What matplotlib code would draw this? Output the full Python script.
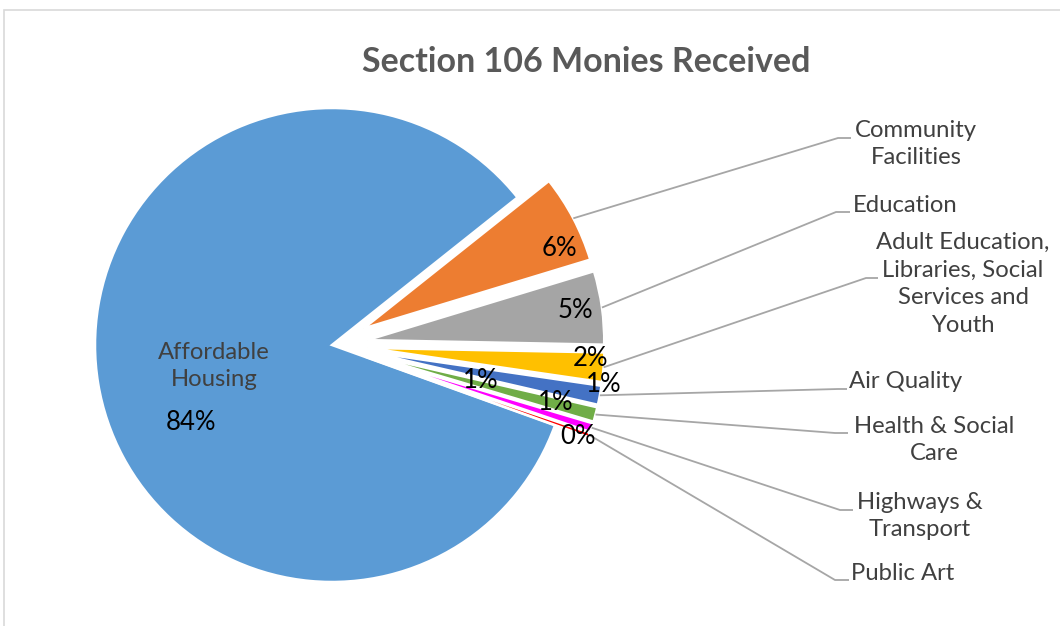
import numpy as np
import matplotlib
matplotlib.use("Agg")
import matplotlib.pyplot as plt
from matplotlib.patches import Rectangle

# ---- data ----
categories = ["Affordable\nHousing", "Community\nFacilities", "Education",
              "Adult Education,\nLibraries, Social\nServices and\nYouth",
              "Air Quality", "Health & Social\nCare", "Highways &\nTransport", "Public Art"]
values = [83.8, 6.0, 5.0, 2.0, 1.3, 1.0, 0.6, 0.3]
pct_labels = ["84%", "6%", "5%", "2%", "1%", "1%", "1%", "0%"]
title = "Section 106 Monies Received"

# ---- style / layout ----
colors = ["#5b9bd5", "#ed7d31", "#a5a5a5", "#ffc000", "#4472c4", "#70ad47", "#ff00ff", "#ff0000"]
W, H = 1060, 626
center_px = (332, 345)
radius_px = 237
explode_frac = [0.0, 0.15, 0.15, 0.15, 0.15, 0.15, 0.15, 0.15]
explode = [f * radius_px for f in explode_frac]

def P(x, y):
    return (x, H - y)

# percent label positions (pixels)
pct_pos = [(191, 422), (559, 248), (575, 311), (590, 358), (604, 385), (556, 403), (481, 380), (578, 437)]
# category label centres (pixels)
cat_pos = [(214, 366), (916, 144), (905, 205), (963, 284), (906, 381), (934, 440), (920, 516), (903, 574)]
# leader knees and ends (pixels), None for the big slice
knees = [None, (838, 138), (836, 212), (866, 278), (838, 389), (835, 433), (840, 510), (835, 580)]
ends = [None, (851, 138), (850, 212), (878, 278), (847, 389), (848, 433), (853, 510), (849, 580)]

fig = plt.figure(figsize=(W / 100, H / 100), dpi=100)
ax = fig.add_axes([0, 0, 1, 1])

startangle = 38.5 + values[0] / sum(values) * 360
wedges, _ = ax.pie(values, colors=colors, explode=explode, startangle=startangle,
                   counterclock=False, radius=radius_px, center=P(*center_px),
                   wedgeprops=dict(edgecolor="white", linewidth=1.8))
ax.set_xlim(0, W)
ax.set_ylim(0, H)
ax.set_aspect("equal")
ax.axis("off")

# frame
ax.add_patch(Rectangle(P(3.5, 635), W + 20, 635 - 9.5, fill=False, edgecolor="#d9d9d9", lw=1.2))

# title
ax.text(*P(586, 62), title, ha="center", va="center", fontsize=24.5, fontweight="bold",
        color="#595959", family="Lato")

# leaders and labels
for i, w in enumerate(wedges):
    if knees[i] is not None:
        mid = np.deg2rad((w.theta1 + w.theta2) / 2)
        cx, cy = w.center
        sx, sy = cx + w.r * np.cos(mid), cy + w.r * np.sin(mid)
        kx, ky = P(*knees[i])
        ex, ey = P(*ends[i])
        ax.plot([sx, kx, ex], [sy, ky, ey], color="#a6a6a6", lw=1.3, solid_capstyle="butt")
    ax.text(*P(*cat_pos[i]), categories[i], ha="center", va="center", fontsize=17.2,
            color="#404040", family="Lato", linespacing=1.38)
    ax.text(*P(*pct_pos[i]), pct_labels[i], ha="center", va="center", fontsize=18.5,
            color="black", family="Lato")

fig.savefig("out.png", dpi=100, facecolor="white")
